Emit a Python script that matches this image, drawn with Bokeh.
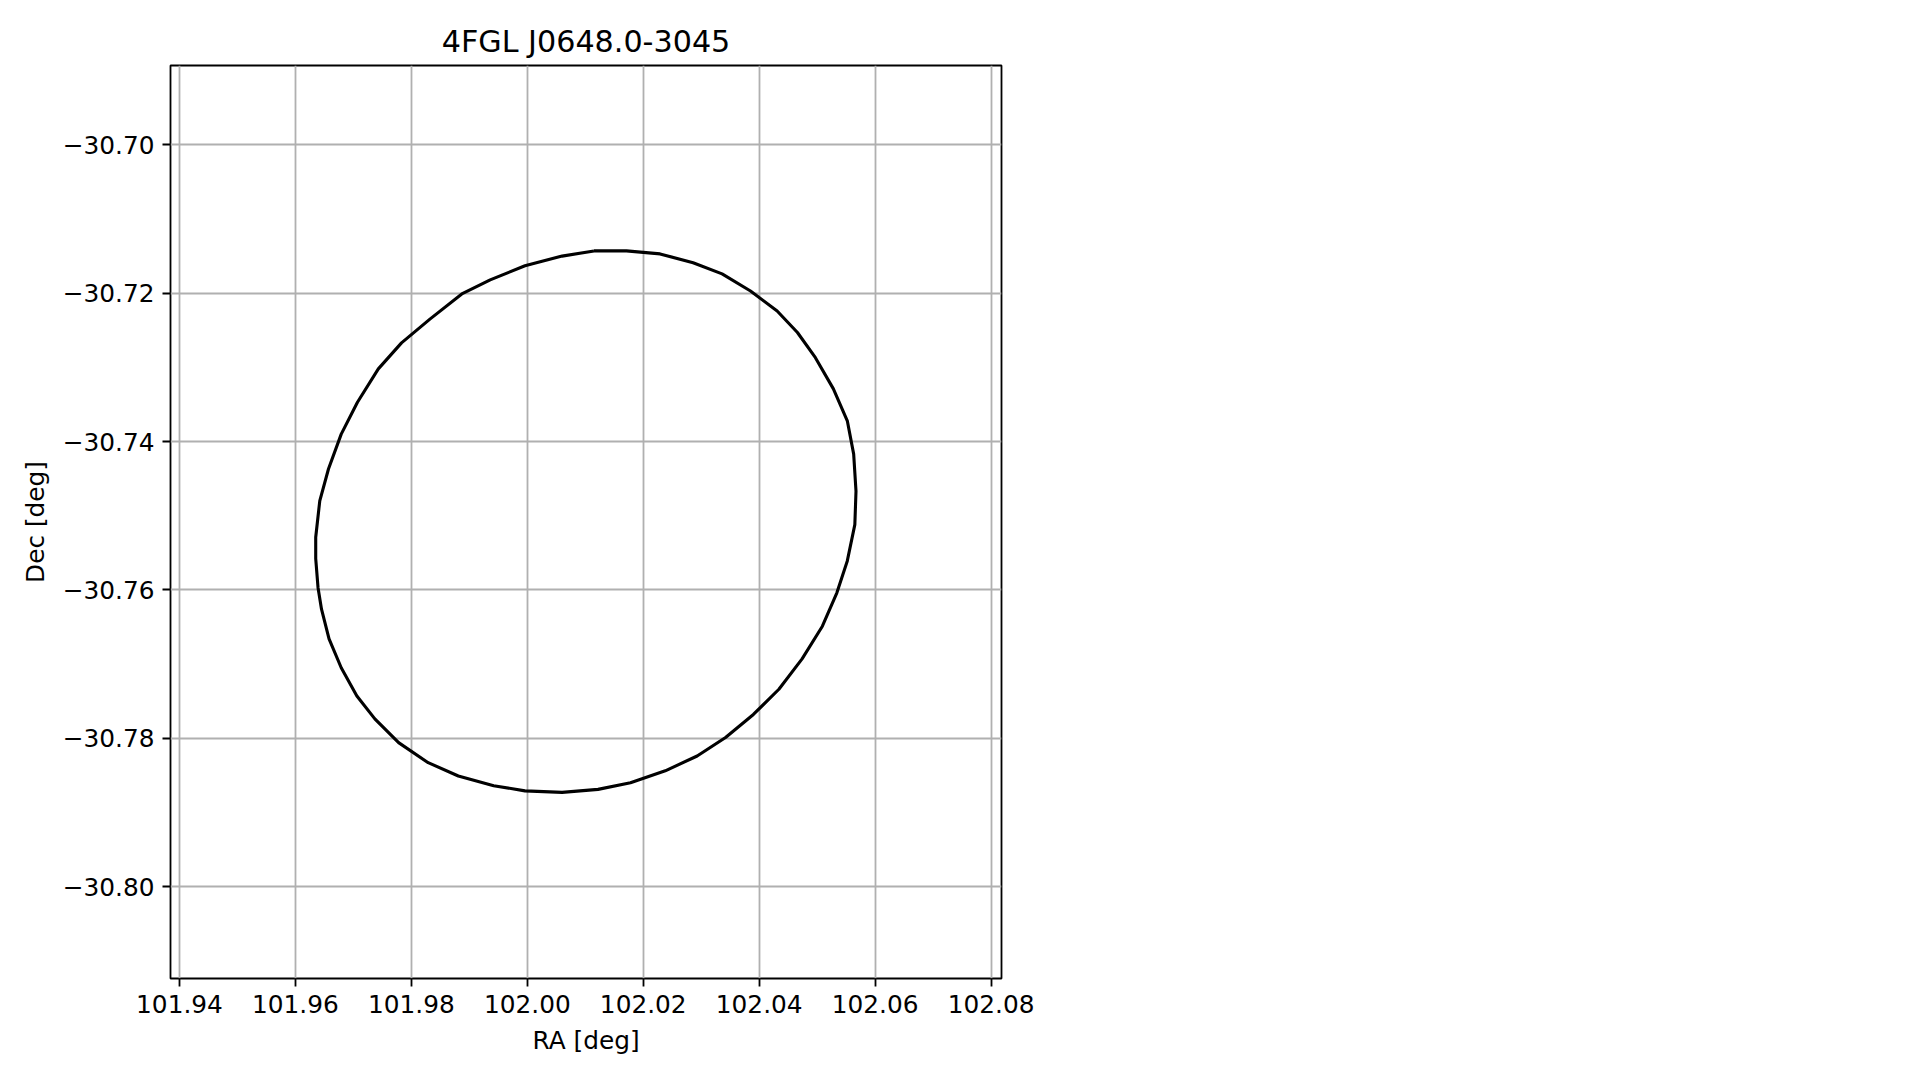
from bokeh.plotting import figure
from bokeh.models import ColumnDataSource, FixedTicker, CustomJSTickFormatter, Range1d
from bokeh.embed import file_html
from bokeh.resources import INLINE

# ---- data ----
title_text = "4FGL J0648.0-3045"
x_label = "RA [deg]"
y_label = "Dec [deg]"

x_ticks = [101.94, 101.96, 101.98, 102.00, 102.02, 102.04, 102.06, 102.08]
y_ticks = [-30.70, -30.72, -30.74, -30.76, -30.78, -30.80]

x_limits = [101.93845, 102.0818]
y_limits = [-30.8124, -30.6893]

ra = [102.0115, 102.0171, 102.0229, 102.0286, 102.0336, 102.0385, 102.0431,
      102.0466, 102.0497, 102.0528, 102.0552, 102.0563, 102.0567, 102.0565,
      102.0552, 102.0534, 102.0509, 102.0474, 102.0434, 102.0390, 102.0342,
      102.0293, 102.0238, 102.0178, 102.0122, 102.0060, 101.9996, 101.9942,
      101.9881, 101.9829, 101.9778, 101.9737, 101.9706, 101.9679, 101.9658,
      101.9645, 101.9639, 101.9635, 101.9635, 101.9642, 101.9657, 101.9679,
      101.9707, 101.9743, 101.9783, 101.9832, 101.9887, 101.9936, 101.9996,
      102.0060, 102.0115]
dec = [-30.7143, -30.7143, -30.7147, -30.7159, -30.7174, -30.7197, -30.7224,
       -30.7253, -30.7287, -30.7329, -30.7372, -30.7417, -30.7467, -30.7512,
       -30.7561, -30.7604, -30.7649, -30.7693, -30.7734, -30.7768, -30.7799,
       -30.7824, -30.7844, -30.7860, -30.7869, -30.7873, -30.7871, -30.7864,
       -30.7851, -30.7833, -30.7806, -30.7774, -30.7743, -30.7705, -30.7666,
       -30.7626, -30.7597, -30.7558, -30.7529, -30.7480, -30.7437, -30.7390,
       -30.7347, -30.7302, -30.7267, -30.7235, -30.7201, -30.7182, -30.7163,
       -30.7150, -30.7143]

FONT = "DejaVu Sans"

p = figure(width=1061, height=1064,
           x_range=Range1d(*x_limits), y_range=Range1d(*y_limits),
           output_backend="svg", toolbar_location=None,
           min_border_left=170, min_border_top=65,
           min_border_right=60, min_border_bottom=86,
           title=title_text)

p.background_fill_color = "white"
p.border_fill_color = "white"
p.outline_line_color = "black"
p.outline_line_width = 1.8

p.title.align = "center"
p.title.text_font = FONT
p.title.text_font_size = "30.2px"
p.title.text_font_style = "normal"
p.title.text_color = "black"
p.title.standoff = 13

src = ColumnDataSource(dict(ra=ra, dec=dec))
p.line("ra", "dec", source=src, line_color="black", line_width=3.1)

fmt = CustomJSTickFormatter(code="return (tick < 0 ? '\u2212' : '') + Math.abs(tick).toFixed(2);")

for ax, ticks, lab in ((p.xaxis[0], x_ticks, x_label), (p.yaxis[0], y_ticks, y_label)):
    ax.ticker = FixedTicker(ticks=ticks)
    ax.formatter = fmt
    ax.axis_label = lab
    ax.axis_label_text_font = FONT
    ax.axis_label_text_font_size = "24.8px"
    ax.axis_label_text_font_style = "normal"
    ax.axis_label_text_color = "black"
    ax.major_label_text_font = FONT
    ax.major_label_text_font_size = "24.8px"
    ax.major_label_text_color = "black"
    ax.axis_line_color = None
    ax.major_tick_line_color = "black"
    ax.major_tick_line_width = 1.8
    ax.major_tick_in = 0
    ax.major_tick_out = 8
    ax.minor_tick_line_color = None
    ax.major_label_standoff = 8
    ax.axis_label_standoff = 10

p.xaxis.major_label_orientation = "horizontal"

for g, ticks in ((p.xgrid[0], x_ticks), (p.ygrid[0], y_ticks)):
    g.ticker = FixedTicker(ticks=ticks)
    g.grid_line_color = "#b0b0b0"
    g.grid_line_width = 1.8

with open("out.html", "w") as f:
    f.write(file_html(p, INLINE))
